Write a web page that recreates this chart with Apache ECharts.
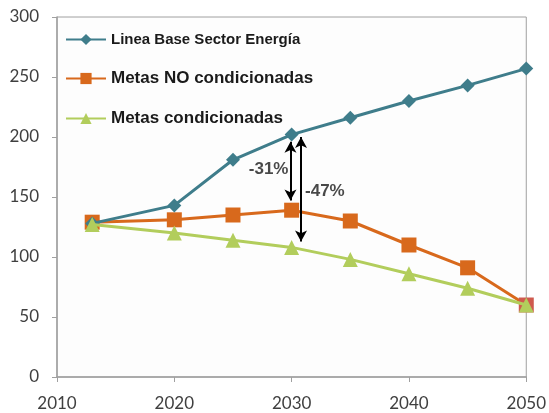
<!DOCTYPE html>
<html><head><meta charset="utf-8">
<script src="https://cdn.jsdelivr.net/npm/echarts@6/dist/echarts.min.js"></script>
<style>html,body{margin:0;padding:0;background:#fff}#c{width:549px;height:413px}</style>
</head><body><div id="c"></div>
<script>
const years = [2013, 2020, 2025, 2030, 2035, 2040, 2045, 2050];
const lineaBase = [128, 143, 181, 202, 216, 230, 243, 257];
const metasNo = [129, 131, 135, 139, 130, 110, 91, 60];
const metasCond = [127, 120, 114, 108, 98, 86, 74, 60];
const seriesNames = ['Linea Base Sector Energía', 'Metas NO condicionadas', 'Metas condicionadas'];
const xTicks = [2010, 2020, 2030, 2040, 2050];
const yTicks = [0, 50, 100, 150, 200, 250, 300];
// annotation arrows: [year, from, to, label, labelValue]
const arrows = [
  [2029.9, 196, 147, '-31%', 173],
  [2030.8, 200, 113, '-47%', 155]
];

const pair = (ys) => years.map((y, i) => [y, ys[i]]);
const chart = echarts.init(document.getElementById('c'), null, {renderer: 'canvas'});
const tealC = '#3F7D8B', orangeC = '#D8691C', greenC = '#B2CD5C';
chart.setOption({
  animation: false,
  backgroundColor: '#ffffff',
  grid: {left: 57, right: 22, top: 17, bottom: 36, show: true, borderColor: '#A0A0A0', borderWidth: 1, backgroundColor: '#FDFDFD'},
  xAxis: {
    type: 'value', min: xTicks[0], max: xTicks[xTicks.length - 1], interval: 10,
    axisLine: {lineStyle: {color: '#A0A0A0', width: 1.5}},
    axisTick: {show: true, length: 5, lineStyle: {color: '#A0A0A0'}},
    splitLine: {show: false},
    axisLabel: {color: '#404040', fontSize: 17, fontFamily: 'Lato', margin: 18, formatter: v => String(v)}
  },
  yAxis: {
    type: 'value', min: yTicks[0], max: yTicks[yTicks.length - 1], interval: 50,
    axisLine: {show: true, lineStyle: {color: '#A0A0A0', width: 1.5}},
    axisTick: {show: true, length: 5, lineStyle: {color: '#A0A0A0'}},
    splitLine: {show: false},
    axisLabel: {color: '#404040', fontSize: 17, fontFamily: 'Lato', margin: 18}
  },
  legend: {
    orient: 'vertical', left: 60, top: 27, itemWidth: 40, itemHeight: 14, itemGap: 23,
    textStyle: {fontFamily: 'Liberation Sans', fontWeight: 'bold', color: '#1a1a1a', fontSize: 17},
    data: [
      {name: seriesNames[0], textStyle: {fontSize: 15}},
      {name: seriesNames[1]},
      {name: seriesNames[2]}
    ]
  },
  series: [
    {name: seriesNames[0], type: 'line', data: pair(lineaBase), symbol: 'diamond', symbolSize: 14,
     lineStyle: {color: tealC, width: 3}, itemStyle: {color: tealC}, z: 3},
    {name: seriesNames[1], type: 'line', data: pair(metasNo).map((d, i) => i === metasNo.length - 1 ? {value: d, itemStyle: {color: '#CF5A4E'}} : d),
     symbol: 'rect', symbolSize: 15,
     lineStyle: {color: orangeC, width: 3}, itemStyle: {color: orangeC}, z: 2},
    {name: seriesNames[2], type: 'line', data: pair(metasCond), symbol: 'triangle', symbolSize: 15,
     lineStyle: {color: greenC, width: 3}, itemStyle: {color: greenC}, z: 4},
    {name: 'arrows', type: 'line', data: [], symbol: 'none',
     markLine: {silent: true, symbol: ['arrow', 'arrow'], symbolSize: [9, 11],
       lineStyle: {color: '#000', width: 2, type: 'solid'}, label: {show: false},
       data: arrows.map(a => [{coord: [a[0], a[1]]}, {coord: [a[0], a[2]]}])}},
    {name: 'labels', type: 'scatter', symbolSize: 0, z: 10,
     data: arrows.map((a, i) => ({value: [a[0], a[4]], label: {show: true, formatter: a[3],
       position: i === 0 ? 'left' : 'right', distance: i === 0 ? 2 : 4,
       fontFamily: 'Liberation Sans', fontWeight: 'bold', fontSize: 17, color: '#1a1a1a'}}))}
  ]
});
</script></body></html>
